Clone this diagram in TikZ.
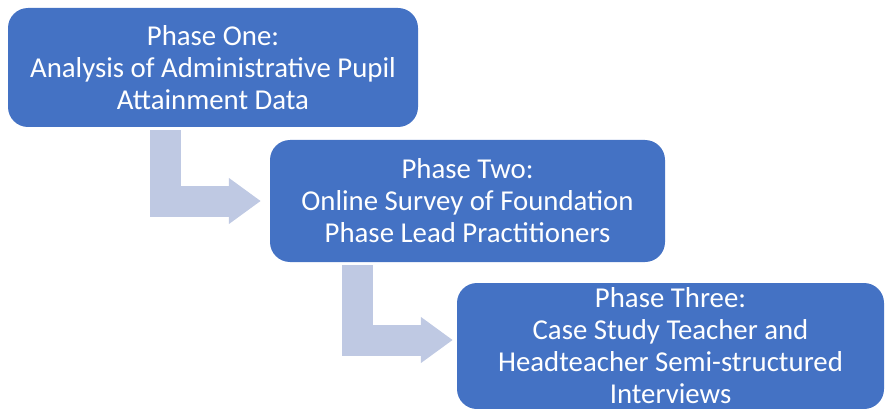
\documentclass[tikz,border=0pt]{standalone}
\usepackage{fontspec}
\setmainfont{Carlito}
\usepackage{tikz}
\usetikzlibrary{arrows.meta,calc,positioning}
\definecolor{phaseblue}{HTML}{4472C4}
\definecolor{flowlilac}{HTML}{BFC9E3}

\begin{document}
\begin{tikzpicture}[x=1pt,y=-1pt,
  phasebox/.style={fill=phaseblue,rounded corners=20pt,text=white,align=center,
    font=\fontsize{28.8}{32}\selectfont,inner sep=0pt},
  flowarrow/.style={draw=flowlilac,line width=31pt,
    -{Triangle[length=32pt,width=44pt]}}]
  \useasboundingbox (0,0) rectangle (886,409);
  \node[phasebox,minimum width=410pt,minimum height=119pt] (one) at (213,67.5)
    {Phase One:\\Analysis of Administrative Pupil\\Attainment Data};
  \node[phasebox,minimum width=395pt,minimum height=122pt] (two) at (467.5,201)
    {Phase Two:\\Online Survey of Foundation\\Phase Lead Practitioners};
  \node[phasebox,minimum width=427pt,minimum height=126pt] (three) at (670.5,346)
    {Phase Three:\\Case Study Teacher and\\Headteacher Semi-structured\\Interviews};
  \draw[flowarrow,shorten >=9pt] ([xshift=157.5pt,yshift=-3pt]one.south west) |- (two.west);
  \draw[flowarrow,shorten >=4pt] ([xshift=87.5pt,yshift=-3pt]two.south west) |- ([yshift=6pt]three.west);
\end{tikzpicture}
\end{document}
